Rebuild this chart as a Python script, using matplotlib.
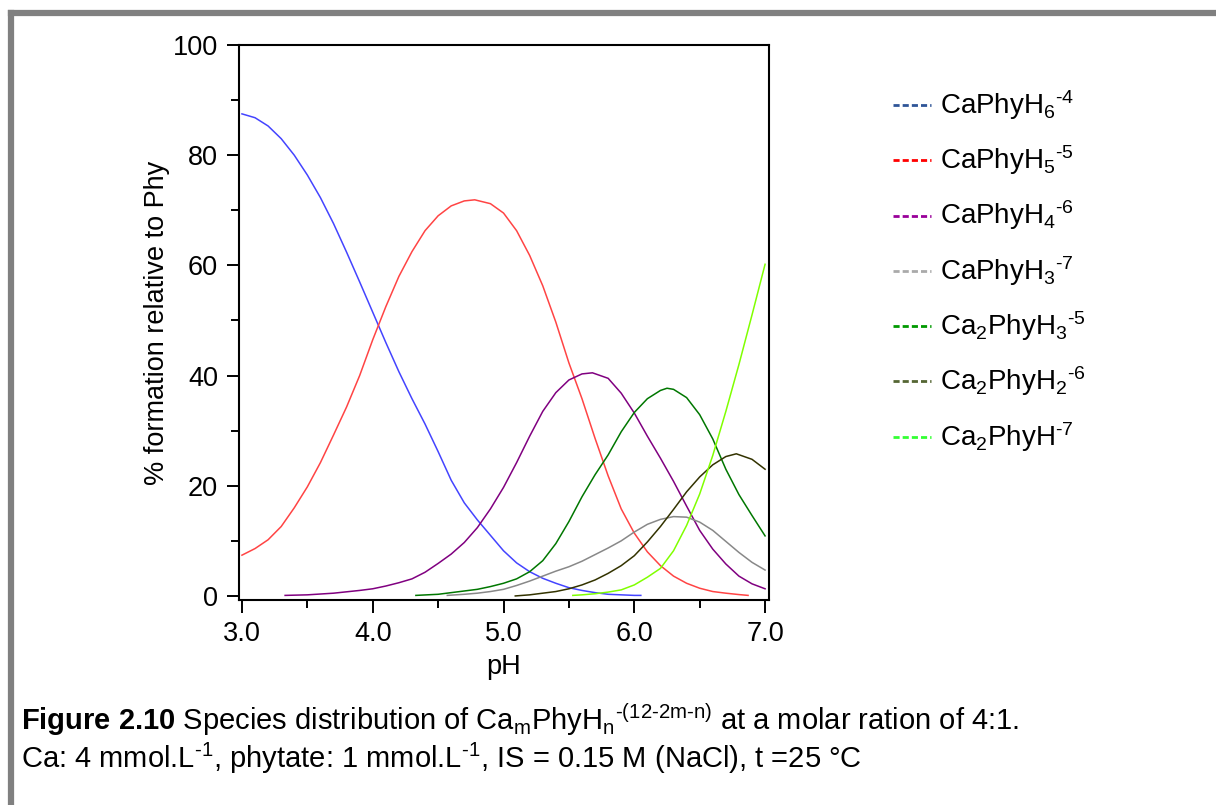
import numpy as np
import matplotlib
matplotlib.use("Agg")
import matplotlib.pyplot as plt
from matplotlib.lines import Line2D
from matplotlib.ticker import MultipleLocator

plt.rcParams['font.family'] = ['Liberation Sans', 'DejaVu Sans']
plt.rcParams['mathtext.fontset'] = 'custom'
plt.rcParams['mathtext.rm'] = 'Liberation Sans'
plt.rcParams['mathtext.it'] = 'Liberation Sans'
plt.rcParams['mathtext.bf'] = 'Liberation Sans:bold'
plt.rcParams['mathtext.default'] = 'regular'

# species curves (pH, % formation)
ph_h6 = [3.0, 3.1, 3.2, 3.3, 3.4, 3.5, 3.6, 3.7, 3.8, 3.9, 4.0, 4.1, 4.2, 4.3, 4.4, 4.5, 4.6, 4.7,
         4.8, 4.9, 5.0, 5.1, 5.2, 5.3, 5.4, 5.5, 5.6, 5.7, 5.8, 5.9, 6.0, 6.05]
pct_h6 = [87.5, 86.8, 85.3, 83.0, 80.0, 76.4, 72.3, 67.6, 62.4, 57.0, 51.5, 46.0, 40.7, 35.8, 31.2,
          26.2, 21.0, 16.9, 13.8, 11.0, 8.2, 6.0, 4.4, 3.2, 2.3, 1.5, 1.0, 0.6, 0.3, 0.2, 0.1, 0.1]

ph_h5 = [3.0, 3.1, 3.2, 3.3, 3.4, 3.5, 3.6, 3.7, 3.8, 3.9, 4.0, 4.1, 4.2, 4.3, 4.4, 4.5, 4.6, 4.7,
         4.78, 4.9, 5.0, 5.1, 5.2, 5.3, 5.4, 5.5, 5.6, 5.7, 5.8, 5.9, 6.0, 6.1, 6.2, 6.3, 6.4, 6.5,
         6.6, 6.7, 6.8, 6.87]
pct_h5 = [7.4, 8.6, 10.2, 12.6, 16.0, 19.8, 24.2, 29.2, 34.3, 40.0, 46.5, 52.5, 58.0, 62.5, 66.3,
          69.0, 70.8, 71.7, 71.9, 71.2, 69.5, 66.3, 61.8, 56.3, 49.7, 42.3, 35.8, 28.6, 21.8, 15.8,
          11.4, 8.0, 5.5, 3.6, 2.3, 1.4, 0.8, 0.5, 0.25, 0.1]

ph_h4 = [3.33, 3.5, 3.7, 3.9, 4.0, 4.1, 4.2, 4.3, 4.4, 4.5, 4.6, 4.7, 4.8, 4.9, 5.0, 5.1, 5.2, 5.3,
         5.4, 5.5, 5.6, 5.68, 5.8, 5.9, 6.0, 6.1, 6.2, 6.3, 6.4, 6.5, 6.6, 6.7, 6.8, 6.9, 7.0]
pct_h4 = [0.1, 0.2, 0.5, 1.0, 1.3, 1.8, 2.4, 3.1, 4.3, 5.9, 7.6, 9.7, 12.4, 15.8, 19.7, 24.2, 29.0,
          33.5, 36.9, 39.2, 40.3, 40.5, 39.5, 36.8, 33.2, 29.0, 25.0, 20.8, 16.3, 11.9, 8.5, 5.8,
          3.6, 2.2, 1.3]

ph_h3 = [4.57, 4.7, 4.8, 4.9, 5.0, 5.1, 5.2, 5.3, 5.4, 5.5, 5.6, 5.7, 5.8, 5.9, 6.0, 6.1, 6.2, 6.3,
         6.4, 6.5, 6.6, 6.7, 6.8, 6.9, 7.0]
pct_h3 = [0.1, 0.3, 0.5, 0.8, 1.2, 1.9, 2.7, 3.6, 4.5, 5.3, 6.3, 7.5, 8.7, 10.0, 11.6, 13.0, 13.9,
          14.4, 14.3, 13.4, 11.9, 9.9, 7.9, 6.1, 4.7]

ph_ca2h3 = [4.33, 4.5, 4.6, 4.7, 4.8, 4.9, 5.0, 5.1, 5.2, 5.3, 5.4, 5.5, 5.6, 5.7, 5.8, 5.9, 6.0,
            6.1, 6.2, 6.25, 6.3, 6.4, 6.5, 6.6, 6.7, 6.8, 6.9, 7.0]
pct_ca2h3 = [0.1, 0.3, 0.6, 0.9, 1.2, 1.7, 2.3, 3.1, 4.4, 6.4, 9.5, 13.5, 18.0, 22.0, 25.6, 29.8,
             33.3, 35.8, 37.3, 37.7, 37.5, 36.0, 32.9, 28.5, 23.0, 18.4, 14.6, 10.9]

ph_ca2h2 = [5.09, 5.2, 5.3, 5.4, 5.5, 5.6, 5.7, 5.8, 5.9, 6.0, 6.1, 6.2, 6.3, 6.4, 6.5, 6.6, 6.7,
            6.78, 6.9, 7.0]
pct_ca2h2 = [0.0, 0.2, 0.5, 0.8, 1.3, 2.0, 2.9, 4.1, 5.5, 7.3, 9.8, 12.6, 15.7, 18.9, 21.6, 23.8,
             25.3, 25.8, 24.8, 23.0]

ph_ca2h = [5.53, 5.6, 5.7, 5.8, 5.9, 6.0, 6.1, 6.2, 6.3, 6.4, 6.5, 6.6, 6.7, 6.8, 6.9, 7.0]
pct_ca2h = [0.1, 0.2, 0.4, 0.7, 1.1, 2.0, 3.4, 5.0, 8.2, 12.8, 18.5, 25.5, 33.5, 42.0, 51.0, 60.2]

curves = [
    (ph_h6, pct_h6, '#4444ff'),
    (ph_h5, pct_h5, '#ff4444'),
    (ph_h4, pct_h4, '#800080'),
    (ph_h3, pct_h3, '#888888'),
    (ph_ca2h3, pct_ca2h3, '#007700'),
    (ph_ca2h2, pct_ca2h2, '#333300'),
    (ph_ca2h, pct_ca2h, '#80ff00'),
]

legend_labels = [r'CaPhyH$_6$$^{\text{-4}}$', r'CaPhyH$_5$$^{\text{-5}}$', r'CaPhyH$_4$$^{\text{-6}}$',
                 r'CaPhyH$_3$$^{\text{-7}}$', r'Ca$_2$PhyH$_3$$^{\text{-5}}$',
                 r'Ca$_2$PhyH$_2$$^{\text{-6}}$', r'Ca$_2$PhyH$^{\text{-7}}$']
legend_colors = ['#2f5597', '#ff0000', '#990099', '#aaaaaa', '#009900', '#556633', '#33ff33']

fig = plt.figure(figsize=(12.16, 8.05), dpi=100)
ax = fig.add_axes([0.1965, 0.2547, 0.4359, 0.6894])

for ph, pct, col in curves:
    ax.plot(ph, pct, color=col, lw=1.1)

ax.set_xlim(2.977, 7.03)
ax.set_ylim(-0.73, 100)
ax.xaxis.set_major_locator(MultipleLocator(1.0))
ax.xaxis.set_minor_locator(MultipleLocator(0.5))
ax.yaxis.set_major_locator(MultipleLocator(20))
ax.yaxis.set_minor_locator(MultipleLocator(10))
ax.xaxis.set_major_formatter(matplotlib.ticker.FormatStrFormatter('%.1f'))
ax.tick_params(which='major', length=9, width=1.4, labelsize=19.5, pad=6)
ax.tick_params(which='minor', length=6, width=1.4)
for s in ax.spines.values():
    s.set_linewidth(1.5)
ax.set_xlabel('pH', fontsize=19.5, labelpad=5)
ax.set_ylabel('% formation relative to Phy', fontsize=19.5, labelpad=2)

# legend (dashed sample + label), drawn to the right of the axes
for i, (lab, col) in enumerate(zip(legend_labels, legend_colors)):
    y = 1 - (105 + i * 55.3) / 805
    fig.add_artist(Line2D([893 / 1216, 931 / 1216], [y, y], transform=fig.transFigure,
                          color=col, lw=2, ls=(0, (2.2, 1.1))))
    fig.text(940 / 1216, y, lab, fontsize=20, va='center', ha='left')

# caption
fig.text(21 / 1216, 1 - 720 / 805,
         r'$\bf{Figure\ 2.10}$ Species distribution of Ca$_m$PhyH$_n$$^{\text{-(12-2m-n)}}$ at a molar ration of 4:1.',
         fontsize=21, va='center', ha='left')
fig.text(21 / 1216, 1 - 758 / 805,
         r'Ca: 4 mmol.L$^{\text{-1}}$, phytate: 1 mmol.L$^{\text{-1}}$, IS = 0.15 M (NaCl), t =25 °C',
         fontsize=21, va='center', ha='left')

# grey frame at top and left
fig.add_artist(Line2D([11 / 1216, 1], [1 - 13 / 805, 1 - 13 / 805], transform=fig.transFigure,
                      color='#808080', lw=4.5, solid_capstyle='projecting'))
fig.add_artist(Line2D([11 / 1216, 11 / 1216], [0, 1 - 13 / 805], transform=fig.transFigure,
                      color='#808080', lw=4.5))

fig.savefig('out.png', dpi=100)
